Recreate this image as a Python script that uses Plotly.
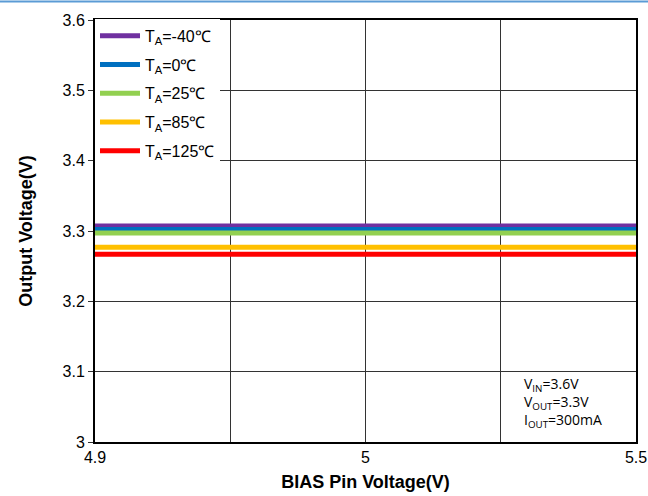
import plotly.graph_objects as go

# Data
bias_labels = ["4.9", "", "5", "", "5.5"]
series_names = ["T<sub>A</sub>=-40℃", "T<sub>A</sub>=0℃", "T<sub>A</sub>=25℃",
                "T<sub>A</sub>=85℃", "T<sub>A</sub>=125℃"]
v_m40 = [3.307, 3.307, 3.307, 3.307, 3.307]
v_0 = [3.302, 3.302, 3.302, 3.302, 3.302]
v_25 = [3.297, 3.297, 3.297, 3.297, 3.297]
v_85 = [3.277, 3.277, 3.277, 3.277, 3.277]
v_125 = [3.267, 3.267, 3.267, 3.267, 3.267]
y_ticks = [3.0, 3.1, 3.2, 3.3, 3.4, 3.5, 3.6]
y_ticktext = ["3", "3.1", "3.2", "3.3", "3.4", "3.5", "3.6"]
colors = ["#7030A0", "#0070C0", "#92D050", "#FFC000", "#FF0000"]

x_pos = list(range(len(bias_labels)))
series = [v_m40, v_0, v_25, v_85, v_125]

fig = go.Figure()
for i, (name, vals, c) in enumerate(zip(series_names, series, colors)):
    fig.add_trace(go.Scatter(
        x=x_pos, y=vals, mode="lines", name=name,
        line=dict(color=c, width=5), legendgroup=f"g{i}",
    ))

font_fam = "Liberation Sans, Arial, sans-serif"

fig.update_layout(
    width=648, height=496,
    margin=dict(l=95, r=12, t=20, b=54),
    paper_bgcolor="white", plot_bgcolor="white",
    font=dict(family=font_fam, color="black"),
    showlegend=True,
    legend=dict(
        x=0.0, y=1.003, xanchor="left", yanchor="top",
        bgcolor="white", borderwidth=0,
        font=dict(size=16, family=font_fam, color="black"),
        tracegroupgap=5, itemwidth=40,
    ),
    xaxis=dict(
        range=[0, len(bias_labels) - 1],
        tickmode="array", tickvals=x_pos, ticktext=bias_labels,
        showgrid=True, gridcolor="#333333", gridwidth=1,
        showline=True, linecolor="black", linewidth=2, mirror=True,
        ticks="", tickfont=dict(size=16, family=font_fam),
        title=dict(text="<b>BIAS Pin Voltage(V)</b>", font=dict(size=18, family=font_fam), standoff=10),
        zeroline=False, automargin=False,
    ),
    yaxis=dict(
        range=[3.0, 3.6],
        tickmode="array", tickvals=y_ticks, ticktext=y_ticktext,
        showgrid=True, gridcolor="#333333", gridwidth=1,
        showline=True, linecolor="black", linewidth=2, mirror=True,
        ticks="outside", ticklen=5, tickcolor="#333333",
        tickfont=dict(size=16, family=font_fam),
        title=dict(text="<b>Output Voltage(V)</b>", font=dict(size=18, family=font_fam), standoff=25),
        zeroline=False, automargin=False,
    ),
)

# white box behind the condition note (covers the horizontal grid line)
fig.add_shape(type="rect", xref="paper", yref="paper",
              x0=(503 - 95) / 541, x1=(627 - 95) / 541, y0=0.004, y1=(442 - 365) / 422,
              fillcolor="white", line=dict(width=0), layer="between")

# Condition note
fig.add_annotation(
    xref="paper", yref="paper", x=(523 - 95) / 541, y=0.024, xanchor="left", yanchor="bottom",
    text="V<sub>IN</sub>=3.6V<br>V<sub>OUT</sub>=3.3V<br>I<sub>OUT</sub>=300mA",
    showarrow=False, align="left",
    font=dict(size=14, family="Open Sans, sans-serif", color="black"),
    borderpad=0,
)

# thin blue rule at the top of the page
fig.add_shape(type="line", xref="paper", yref="paper",
              x0=-95 / 541, x1=553 / 541, y0=1 + 18.5 / 422, y1=1 + 18.5 / 422,
              line=dict(color="#5B9BD5", width=2))

fig.write_html("out.html", config={"displayModeBar": False},
               post_script="document.body.style.margin='0';")
